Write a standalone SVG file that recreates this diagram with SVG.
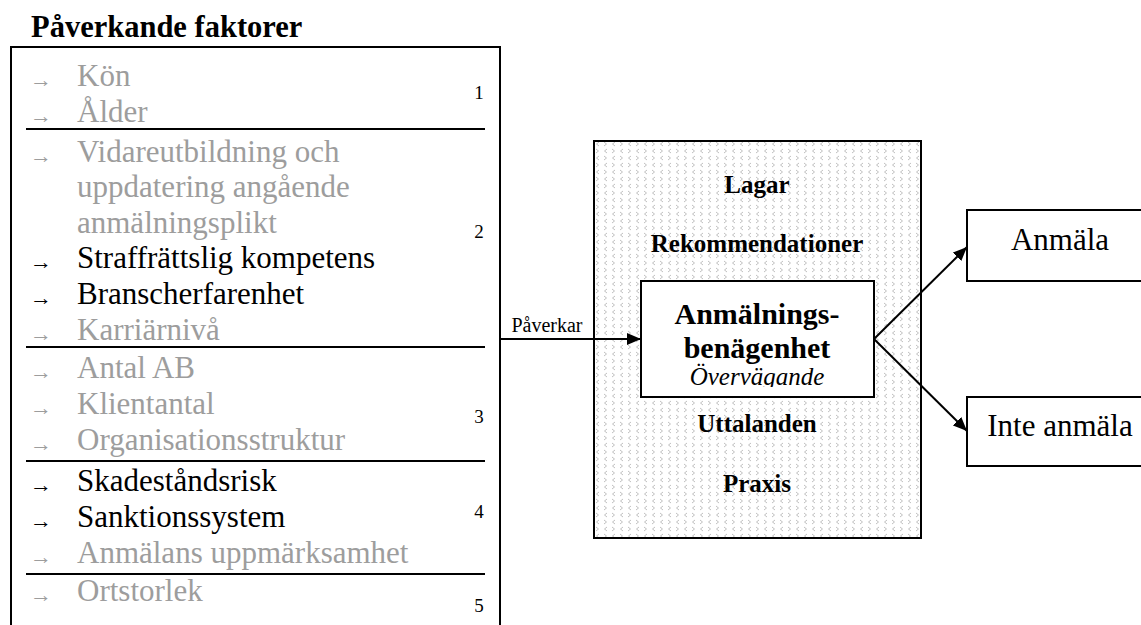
<svg xmlns="http://www.w3.org/2000/svg" width="1141" height="625" viewBox="0 0 1141 625">
<style>
  .t { font-family: "Liberation Serif", "Times New Roman", serif; }
  .item { font-family: "Liberation Serif", "Times New Roman", serif; font-size: 31px; }
  .grey { fill: #9d9d9d; }
  .blk { fill: #000; }
  .arr { font-family: "Liberation Serif", "DejaVu Serif", serif; font-size: 22px; }
  .num { font-family: "Liberation Serif", serif; font-size: 19px; fill: #000; text-anchor: middle; }
  .ln { stroke: #000; stroke-width: 2; fill: none; }
  .mid { font-family: "Liberation Serif", serif; font-weight: bold; font-size: 25px; text-anchor: middle; fill: #000; }
</style>
<defs>
  <pattern id="chev" patternUnits="userSpaceOnUse" x="594" y="141" width="16" height="14">
    <g stroke="#b8b8b8" stroke-width="0.9" fill="none">
      <path d="M5,1 L2.5,3 L5,5"/>
      <path d="M10,1 L12.5,3 L10,5"/>
      <path d="M2,8 L4.5,10 L2,12"/>
      <path d="M13,8 L10.5,10 L13,12"/>
    </g>
  </pattern>
  <marker id="ah" viewBox="0 0 14 12" refX="14" refY="6" markerWidth="14" markerHeight="12" markerUnits="userSpaceOnUse" orient="auto">
    <path d="M0,0 L14,6 L0,12 Z" fill="#000"/>
  </marker>
  <clipPath id="innerclip"><rect x="641" y="281" width="233" height="106"/></clipPath>
</defs>
<rect width="1141" height="625" fill="#fff"/>

<g id="factors">
  <text class="t" x="31" y="37" font-size="30.5" font-weight="bold">Påverkande faktorer</text>
  <path class="ln" d="M11,625 V47 H500 V625"/>
  <g id="sep">
    <line class="ln" x1="26" y1="129" x2="485" y2="129"/>
    <line class="ln" x1="26" y1="347" x2="485" y2="347"/>
    <line class="ln" x1="26" y1="461" x2="485" y2="461"/>
    <line class="ln" x1="26" y1="574" x2="485" y2="574"/>
  </g>
  <g id="group1">
    <text class="arr grey" x="30" y="87">→</text><text class="item grey" x="77" y="86">Kön</text>
    <text class="arr grey" x="30" y="123">→</text><text class="item grey" x="77" y="122">Ålder</text>
    <text class="num" x="479" y="99">1</text>
  </g>
  <g id="group2">
    <text class="arr grey" x="30" y="163">→</text><text class="item grey" x="77" y="162">Vidareutbildning och</text>
    <text class="item grey" x="77" y="197">uppdatering angående</text>
    <text class="item grey" x="77" y="233">anmälningsplikt</text>
    <text class="arr blk" x="30" y="269">→</text><text class="item blk" x="77" y="268">Straffrättslig kompetens</text>
    <text class="arr blk" x="30" y="305">→</text><text class="item blk" x="77" y="304">Branscherfarenhet</text>
    <text class="arr grey" x="30" y="341">→</text><text class="item grey" x="77" y="340">Karriärnivå</text>
    <text class="num" x="479" y="238">2</text>
  </g>
  <g id="group3">
    <text class="arr grey" x="30" y="379">→</text><text class="item grey" x="77" y="378">Antal AB</text>
    <text class="arr grey" x="30" y="415">→</text><text class="item grey" x="77" y="414">Klientantal</text>
    <text class="arr grey" x="30" y="451">→</text><text class="item grey" x="77" y="450">Organisationsstruktur</text>
    <text class="num" x="479" y="423">3</text>
  </g>
  <g id="group4">
    <text class="arr blk" x="30" y="492">→</text><text class="item blk" x="77" y="491">Skadeståndsrisk</text>
    <text class="arr blk" x="30" y="528">→</text><text class="item blk" x="77" y="527">Sanktionssystem</text>
    <text class="arr grey" x="30" y="564">→</text><text class="item grey" x="77" y="563">Anmälans uppmärksamhet</text>
    <text class="num" x="479" y="518">4</text>
  </g>
  <g id="group5">
    <text class="arr grey" x="30" y="602">→</text><text class="item grey" x="77" y="601">Ortstorlek</text>
    <text class="num" x="479" y="612">5</text>
  </g>
</g>

<g id="context">
  <rect x="594" y="141" width="327" height="397" fill="url(#chev)" stroke="#000" stroke-width="2"/>
  <text class="mid" x="757" y="193">Lagar</text>
  <text class="mid" x="757" y="252">Rekommendationer</text>
  <text class="mid" x="757" y="432">Uttalanden</text>
  <text class="mid" x="757" y="492">Praxis</text>
</g>

<g id="propensity">
  <rect x="641" y="281" width="233" height="116" fill="#fff" stroke="#000" stroke-width="2"/>
  <text class="t" x="757" y="324" font-size="30" font-weight="bold" text-anchor="middle">Anmälnings-</text>
  <text class="t" x="757" y="358" font-size="30" font-weight="bold" text-anchor="middle">benägenhet</text>
  <text class="t" x="757" y="385" font-size="25" font-style="italic" text-anchor="middle" clip-path="url(#innerclip)">Övervägande</text>
</g>

<g id="report">
  <path class="ln" d="M1141,210 H967 V281 H1141"/>
  <text class="t" x="1060" y="250" font-size="31" text-anchor="middle">Anmäla</text>
</g>

<g id="noreport">
  <path class="ln" d="M1141,397 H967 V466 H1141"/>
  <text class="t" x="1060" y="436" font-size="31" text-anchor="middle">Inte anmäla</text>
</g>

<g id="connectors" stroke="#000" stroke-width="2" fill="none">
  <line x1="500" y1="339" x2="641" y2="339" marker-end="url(#ah)"/>
  <line x1="874" y1="339" x2="967" y2="247" marker-end="url(#ah)"/>
  <line x1="874" y1="339" x2="967" y2="431" marker-end="url(#ah)"/>
</g>
<text class="t" x="547" y="332" font-size="20" text-anchor="middle">Påverkar</text>
</svg>
